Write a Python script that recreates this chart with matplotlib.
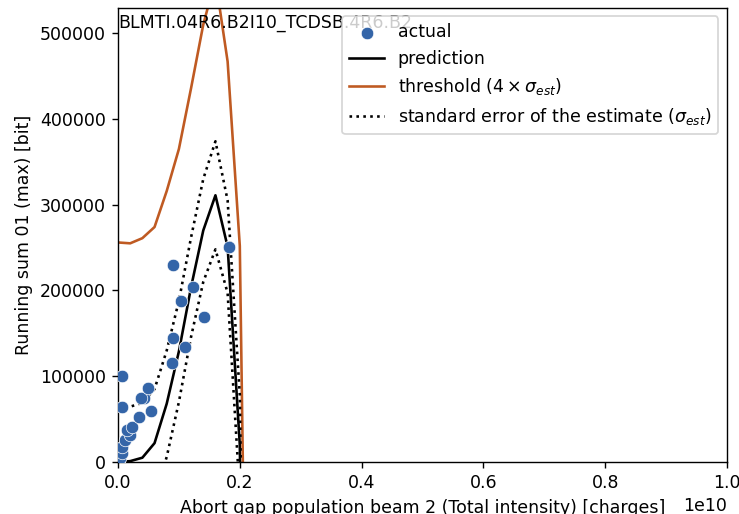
import matplotlib
matplotlib.use('Agg')
import matplotlib.pyplot as plt
import numpy as np

SENSOR = 'BLMTI.04R6.B2I10_TCDSB.4R6.B2'

# measured points
actual_x = [0.02e9, 0.03e9, 0.06e9, 0.06e9, 0.115e9, 0.197e9, 0.143e9, 0.225e9,
            0.35e9, 0.537e9, 0.06e9, 0.432e9, 0.372e9, 0.498e9, 0.071e9, 0.892e9,
            1.10e9, 0.908e9, 1.418e9, 1.034e9, 1.237e9, 0.908e9, 1.828e9]
actual_y = [1500, 4700, 10500, 17800, 25600, 31500, 37300, 41200,
            52800, 59800, 64500, 74200, 75000, 86600, 100200, 115700,
            134400, 144900, 168600, 187600, 203600, 229600, 251000]

# model evaluated on a grid
grid_x = [0.0, 0.2e9, 0.4e9, 0.6e9, 0.8e9, 1.0e9, 1.2e9, 1.4e9, 1.6e9, 1.8e9, 2.0e9, 2.2e9]
pred_y = [0, 1000, 5000, 22000, 68000, 129000, 204000, 270000, 311000, 251000, 20000, -990000]
sigma_est = [64000, 63500, 64000, 63000, 62000, 59000, 58000, 60000, 63000, 54000, 58000, 58000]

grid_x = np.array(grid_x)
pred_y = np.array(pred_y, dtype=float)
sigma_est = np.array(sigma_est, dtype=float)

fig = plt.figure(figsize=(739 / 125, 514 / 125), dpi=125)
ax = fig.add_axes([118 / 739, 52 / 514, 609 / 739, 454.5 / 514])

ax.scatter(actual_x, actual_y, s=52, color='#3465a8', edgecolor='white', linewidth=0.4,
           label='actual', zorder=3)
ax.plot(grid_x, pred_y, color='black', label='prediction')
ax.plot(grid_x, pred_y + 4 * sigma_est, color='#bf5a22', label=r'threshold ($4 \times \sigma_{est}$)')
ax.plot(grid_x, pred_y + sigma_est, color='black', linestyle=':',
        label=r'standard error of the estimate ($\sigma_{est}$)')
ax.plot(grid_x, pred_y - sigma_est, color='black', linestyle=':')

ax.set_xlim(0, 1e10)
ax.set_ylim(0, 530000)
ax.set_xlabel('Abort gap population beam 2 (Total intensity) [charges]')
ax.set_ylabel('Running sum 01 (max) [bit]')
ax.text(0.0, 0.985, SENSOR, transform=ax.transAxes, ha='left', va='top')
ax.legend(loc='upper right')

fig.savefig('out.png', dpi=125)
